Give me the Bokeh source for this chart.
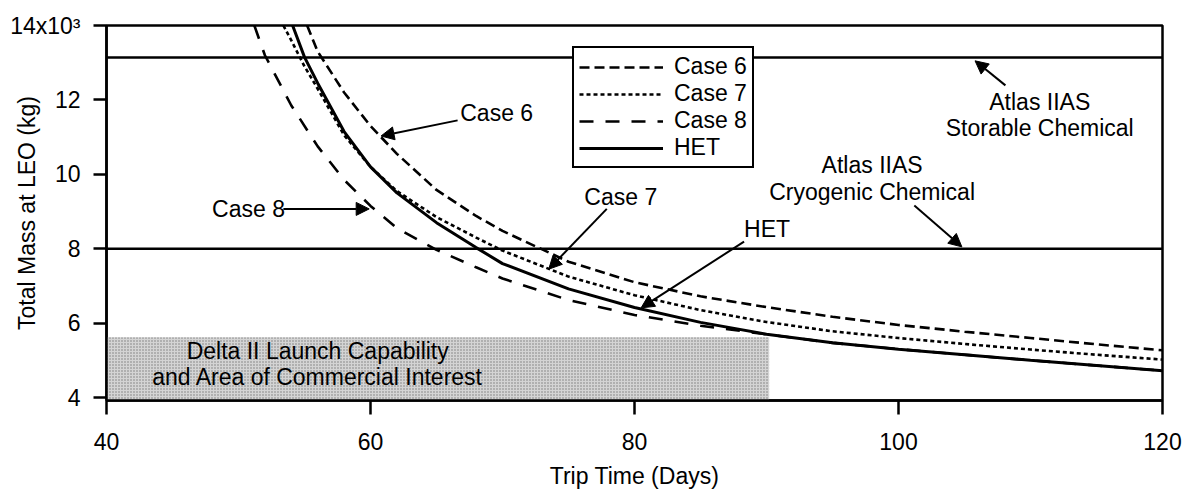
from bokeh.plotting import figure
from bokeh.models import Range1d, FixedTicker, Label, Arrow, NormalHead
from bokeh.embed import file_html
from bokeh.resources import INLINE

FONT = "Liberation Sans"
FS = "23px"

# ---- data ----
case6_x = [55.2, 56, 58, 60, 62, 65, 68, 70, 75, 80, 85, 90, 95, 100, 105, 110, 115, 120]
case6_y = [14.0, 13.3, 12.2, 11.3, 10.55, 9.58, 8.88, 8.48, 7.65, 7.1, 6.72, 6.43, 6.17, 5.95, 5.77, 5.6, 5.43, 5.27]

case7_x = [53.4, 54, 55, 56, 58, 60, 62, 65, 68, 70, 75, 80, 85, 90, 95, 100, 105, 110, 115, 120]
case7_y = [14.0, 13.6, 12.9, 12.3, 11.05, 10.2, 9.55, 8.85, 8.3, 7.95, 7.25, 6.75, 6.35, 6.03, 5.78, 5.6, 5.44, 5.29, 5.15, 5.02]

case8_x = [51.2, 52, 54, 56, 58, 60, 62, 65, 68, 70, 75, 80, 85, 90, 95, 100, 105, 110, 115, 120]
case8_y = [14.0, 13.2, 11.85, 10.75, 9.85, 9.15, 8.55, 7.97, 7.5, 7.2, 6.62, 6.22, 5.93, 5.7, 5.47, 5.3, 5.15, 5.0, 4.86, 4.72]

het_x = [54.1, 55, 56, 58, 60, 62, 65, 68, 70, 75, 80, 85, 90, 95, 100, 105, 110, 115, 120]
het_y = [14.0, 13.15, 12.45, 11.15, 10.2, 9.5, 8.7, 8.03, 7.6, 6.92, 6.42, 6.02, 5.7, 5.47, 5.3, 5.15, 5.0, 4.86, 4.72]

storable_level = 13.14
cryogenic_level = 8.0
x_span = [40, 120]
delta_left, delta_right = 40, 90.2
delta_bottom, delta_top = 3.92, 5.62

x_ticks = [40, 60, 80, 100, 120]
y_ticks = [4, 6, 8, 10, 12, 14]
y_tick_text = {14: "14x10\u00b3"}

# ---- figure ----
p = figure(width=1193, height=497, output_backend="svg", toolbar_location=None,
           x_range=Range1d(40, 120), y_range=Range1d(3.92, 14.0))
p.min_border_left = 106
p.min_border_right = 31
p.min_border_top = 25
p.min_border_bottom = 97
p.background_fill_color = "white"
p.border_fill_color = "white"
p.outline_line_color = "black"
p.outline_line_alpha = 1.0
p.outline_line_width = 2.5
p.xgrid.visible = False
p.ygrid.visible = False

for ax in (p.xaxis[0], p.yaxis[0]):
    ax.axis_line_width = 2.5
    ax.major_tick_line_width = 2.5
    ax.major_tick_in = 0
    ax.minor_tick_line_color = None
    ax.major_label_text_font = FONT
    ax.major_label_text_font_size = FS
    ax.major_label_text_color = "black"
    ax.axis_label_text_font = FONT
    ax.axis_label_text_font_size = FS
    ax.axis_label_text_font_style = "normal"
    ax.axis_label_text_color = "black"

p.xaxis.ticker = FixedTicker(ticks=x_ticks)
p.yaxis.ticker = FixedTicker(ticks=y_ticks)
p.xaxis.major_tick_out = 14
p.yaxis.major_tick_out = 13
p.xaxis.major_label_standoff = 18
p.yaxis.major_label_standoff = 13
p.xaxis.axis_label = "Trip Time (Days)"
p.xaxis.axis_label_standoff = 10
p.yaxis.axis_label = "Total Mass at LEO (kg)"
p.yaxis.axis_label_standoff = -33
p.yaxis.major_label_overrides = y_tick_text

# shaded Delta II region
p.quad(left=delta_left, right=delta_right, bottom=delta_bottom, top=delta_top,
       fill_color="#d4d4d4", line_color=None,
       hatch_pattern="dot", hatch_color="#7a7a7a", hatch_scale=3, hatch_weight=0.8)

# launch vehicle capability lines
p.line(x_span, [storable_level] * 2, line_color="black", line_width=2.5)
p.line(x_span, [cryogenic_level] * 2, line_color="black", line_width=2.5)

# curves
p.line(case6_x, case6_y, line_color="black", line_width=2.6, line_dash="10 5", legend_label="Case 6")
p.line(case7_x, case7_y, line_color="black", line_width=2.6, line_dash="4 3", legend_label="Case 7")
p.line(case8_x, case8_y, line_color="black", line_width=2.6, line_dash="14 12", legend_label="Case 8")
p.line(het_x, het_y, line_color="black", line_width=3, legend_label="HET")

leg = p.legend[0]
leg.location = (466, 232)
leg.border_line_color = "black"
leg.border_line_alpha = 1.0
leg.border_line_width = 2.5
leg.background_fill_color = "white"
leg.background_fill_alpha = 1.0
leg.label_text_font = FONT
leg.label_text_font_size = FS
leg.label_text_color = "black"
leg.glyph_width = 84
leg.glyph_height = 20
leg.label_height = 26
leg.label_standoff = 11
leg.spacing = 0
leg.padding = 5
leg.margin = 0

def txt(x, y, s, align="left"):
    p.add_layout(Label(x=x, y=y, text=s, text_align=align, text_baseline="middle",
                       text_font=FONT, text_font_size=FS, text_color="black"))

def arrow(x0, y0, x1, y1):
    p.add_layout(Arrow(end=NormalHead(size=13, fill_color="black", line_color="black"),
                       x_start=x0, y_start=y0, x_end=x1, y_end=y1,
                       line_color="black", line_width=2))

txt(66.8, 11.66, "Case 6")
arrow(66.6, 11.45, 60.8, 11.03)
txt(48.0, 9.07, "Case 8")
arrow(53.4, 9.07, 59.9, 9.07)
txt(76.2, 9.38, "Case 7")
arrow(77.9, 9.07, 73.5, 7.45)
txt(88.3, 8.52, "HET")
arrow(88.3, 8.19, 80.5, 6.41)
txt(110.7, 11.95, "Atlas IIAS", "center")
txt(110.7, 11.25, "Storable Chemical", "center")
arrow(108.1, 12.39, 105.8, 13.05)
txt(98.0, 10.26, "Atlas IIAS", "center")
txt(98.0, 9.52, "Cryogenic Chemical", "center")
arrow(101.2, 9.16, 104.8, 8.05)
txt(56.0, 5.24, "Delta II Launch Capability", "center")
txt(56.0, 4.54, "and Area of Commercial Interest", "center")

open("out.html", "w").write(file_html(p, INLINE))
